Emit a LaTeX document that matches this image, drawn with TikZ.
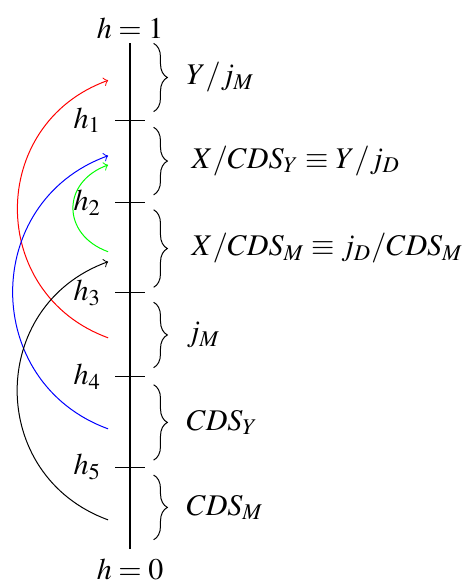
\documentclass[tikz,border=0pt,12pt]{standalone}
\usepackage{mathptmx}
\usetikzlibrary{decorations.pathreplacing}

\begin{document}
\begin{tikzpicture}[brc/.style={decorate, decoration={brace, amplitude=5.5pt}}]
  \useasboundingbox (-1.83,-0.52) rectangle (4.68,7.72);
  % axis
  \coordinate (bot) at (0,0);
  \coordinate (top) at (0,7.12);
  \draw[line width=1pt] (bot)--(top);
  \node (one) at (0,7.32) {$h=1$};
  \node (zero) at (0,-0.28) {$h=0$};
  \foreach \i/\y in {1/6.03,2/4.87,3/3.60,4/2.42,5/1.15}{
    \draw (-0.21,\y)--(0.21,\y);
    \node (h\i) at (-0.6,\y) {$h_\i$};
  }
  % braces
  \draw[brc] (0.33,7.11)--(0.33,6.15) node[midway,right=9pt]{$Y/j_M$};
  \draw[brc] (0.33,5.93)--(0.33,4.98) node[midway,right=11pt]{$X/CDS_Y\equiv Y/j_D$};
  \draw[brc] (0.33,4.77)--(0.33,3.68) node[midway,right=11pt]{$X/CDS_M\equiv j_D/CDS_M$};
  \draw[brc] (0.33,3.47)--(0.33,2.55) node[midway,right=9pt]{$j_M$};
  \draw[brc] (0.33,2.31)--(0.33,1.25) node[midway,right=9pt]{$CDS_Y$};
  \draw[brc] (0.33,1.04)--(0.33,0.13) node[midway,right=9pt]{$CDS_M$};
  % arcs
  \coordinate (r1) at (-0.31,2.97);
  \coordinate (r2) at (-0.31,6.59);
  \coordinate (b1) at (-0.31,1.69);
  \coordinate (b2) at (-0.31,5.53);
  \coordinate (g1) at (-0.31,4.18);
  \coordinate (g2) at (-0.31,5.40);
  \coordinate (k1) at (-0.31,0.41);
  \coordinate (k2) at (-0.31,4.04);
  \draw[->,red] (r1) to[bend left=70, looseness=1.28] (r2);
  \draw[->,blue] (b1) to[bend left=70, looseness=1.27] (b2);
  \draw[->,green] (g1) to[bend left=70, looseness=1.47] (g2);
  \draw[->] (k1) to[bend left=70, looseness=1.28] (k2);
\end{tikzpicture}
\end{document}
